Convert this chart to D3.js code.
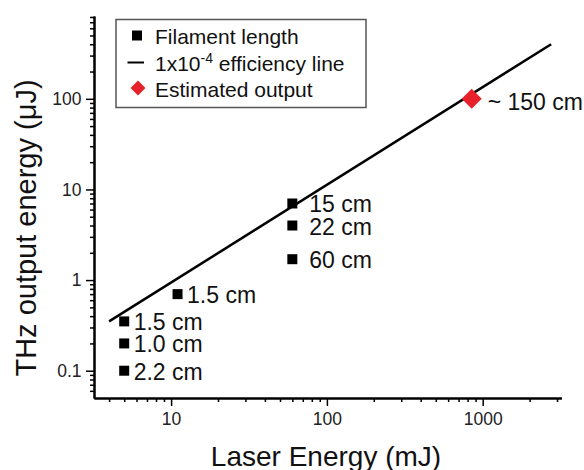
<!DOCTYPE html>
<html>
<head>
<meta charset="utf-8">
<script src="https://cdn.jsdelivr.net/npm/d3@7"></script>
<style>
  body { margin: 0; background: #fff; }
  svg { display: block; font-family: "Liberation Sans", Arial, sans-serif; }
</style>
</head>
<body>
<svg id="chart" width="584" height="470"></svg>
<script>
// Measured THz output versus laser energy, labelled by filament length
const laserEnergy = [5, 5, 5, 11, 60, 60, 60];
const thzOutput = [0.35, 0.2, 0.1, 0.7, 7, 4, 1.7];
const filamentLabels = ["1.5 cm", "1.0 cm", "2.2 cm", "1.5 cm", "15 cm", "22 cm", "60 cm"];

// Projected output for a long filament
const estimatedEnergy = [850];
const estimatedOutput = [100];
const estimatedLabels = ["~ 150 cm"];

// Reference efficiency line (end points)
const efficiencyEnergy = [4, 2750];
const efficiencyOutput = [0.35, 400];

// Axis ticks
const xTickValues = [10, 100, 1000];
const xTickLabels = ["10", "100", "1000"];
const yTickValues = [0.1, 1, 10, 100];
const yTickLabels = ["0.1", "1", "10", "100"];

const legendLabels = ["Filament length", "efficiency line", "Estimated output"];
const xTitle = "Laser Energy (mJ)";
const yTitle = "THz output energy (\u03BCJ)";

const RED = "#e8202a";

const svg = d3.select("#chart");

const x = d3.scaleLog().domain([3.2, 3200]).range([94, 561.4]);
const y = d3.scaleLog().domain([0.05, 820]).range([398, 16]);

// ---- axes ----
const xMinor = x.ticks().filter(v => !xTickValues.includes(v));
const yMinor = y.ticks().filter(v => !yTickValues.includes(v) && v > 0.051);

const gx = svg.append("g").attr("transform", `translate(0,${y.range()[0]})`);
gx.append("g")
  .call(d3.axisBottom(x).tickValues(xMinor).tickSize(4).tickSizeOuter(0).tickFormat(""));
gx.append("g")
  .call(d3.axisBottom(x).tickValues(xTickValues).tickSize(8).tickSizeOuter(0).tickPadding(6.5)
    .tickFormat((d, i) => xTickLabels[i]));

const gy = svg.append("g").attr("transform", `translate(${x.range()[0]},0)`);
gy.append("g")
  .call(d3.axisLeft(y).tickValues(yMinor).tickSize(4).tickSizeOuter(0).tickFormat(""));
gy.append("g")
  .call(d3.axisLeft(y).tickValues(yTickValues).tickSize(8).tickSizeOuter(0).tickPadding(4.5)
    .tickFormat((d, i) => yTickLabels[i]));

svg.selectAll(".domain").attr("stroke", "#000").attr("stroke-width", 2);
svg.selectAll(".tick line").attr("stroke", "#000").attr("stroke-width", 1.5);
svg.selectAll(".tick text")
  .attr("fill", "#222")
  .style("font-size", "17.5px")
  .style("font-family", "'Liberation Sans', Arial, sans-serif");

// ---- axis titles ----
svg.append("text")
  .attr("x", 326).attr("y", 466)
  .attr("text-anchor", "middle")
  .style("font-size", "28px")
  .attr("fill", "#111")
  .text(xTitle);

svg.append("text")
  .attr("transform", "translate(36,228) rotate(-90)")
  .attr("text-anchor", "middle")
  .style("font-size", "29px")
  .attr("fill", "#111")
  .text(yTitle);

// ---- efficiency line ----
const linePts = efficiencyEnergy.map((e, i) => [e, efficiencyOutput[i]]);
svg.append("path")
  .datum(linePts)
  .attr("fill", "none")
  .attr("stroke", "#000")
  .attr("stroke-width", 2.5)
  .attr("d", d3.line().x(d => x(d[0])).y(d => y(d[1])));

// ---- filament-length points ----
const pts = laserEnergy.map((e, i) => ({ e, v: thzOutput[i], label: filamentLabels[i] }));
const square = d3.symbol().type(d3.symbolSquare).size(100);
const diamond = d3.symbol().type(d3.symbolSquare).size(200);

svg.append("g").selectAll("path")
  .data(pts).join("path")
  .attr("transform", d => `translate(${x(d.e)},${y(d.v)})`)
  .attr("d", square)
  .attr("fill", "#000");

const labelGap = d => (d.e >= 50 ? 17 : 9.5);
svg.append("g").selectAll("text")
  .data(pts).join("text")
  .attr("x", d => x(d.e) + labelGap(d))
  .attr("y", d => y(d.v) + 9)
  .style("font-size", "23px")
  .attr("fill", "#111")
  .text(d => d.label);

// ---- estimated output ----
const est = estimatedEnergy.map((e, i) => ({ e, v: estimatedOutput[i], label: estimatedLabels[i] }));
svg.append("g").selectAll("path")
  .data(est).join("path")
  .attr("transform", d => `translate(${x(d.e)},${y(d.v)}) rotate(45)`)
  .attr("d", diamond)
  .attr("fill", RED);

svg.append("g").selectAll("text")
  .data(est).join("text")
  .attr("x", d => x(d.e) + 16)
  .attr("y", d => y(d.v) + 11)
  .style("font-size", "23px")
  .attr("fill", "#111")
  .text(d => d.label);

// ---- legend ----
const lg = svg.append("g");
lg.append("rect")
  .attr("x", 116).attr("y", 19.5)
  .attr("width", 250).attr("height", 88)
  .attr("fill", "#fff")
  .attr("stroke", "#555")
  .attr("stroke-width", 1.5);

const rowY = [44, 70.5, 96.5];
const symX = 137;
const textX = 155;

lg.append("path")
  .attr("transform", `translate(${symX},${rowY[0] - 8.5})`)
  .attr("d", d3.symbol().type(d3.symbolSquare).size(100)())
  .attr("fill", "#000");

lg.append("line")
  .attr("x1", symX - 9.5).attr("x2", symX + 7)
  .attr("y1", rowY[1] - 8).attr("y2", rowY[1] - 8)
  .attr("stroke", "#000").attr("stroke-width", 2);

lg.append("path")
  .attr("transform", `translate(${symX + 1},${rowY[2] - 8.5}) rotate(45)`)
  .attr("d", d3.symbol().type(d3.symbolSquare).size(110)())
  .attr("fill", RED);

lg.append("text")
  .attr("x", textX).attr("y", rowY[0])
  .style("font-size", "21px").attr("fill", "#111")
  .text(legendLabels[0]);

const effText = lg.append("text")
  .attr("x", textX).attr("y", rowY[1])
  .style("font-size", "21px").attr("fill", "#111");
effText.append("tspan").text("1x10");
effText.append("tspan").attr("dy", -8).style("font-size", "14px").text("-4");
effText.append("tspan").attr("dy", 8).text(" " + legendLabels[1]);

lg.append("text")
  .attr("x", textX).attr("y", rowY[2])
  .style("font-size", "21px").attr("fill", "#111")
  .text(legendLabels[2]);
</script>
</body>
</html>
